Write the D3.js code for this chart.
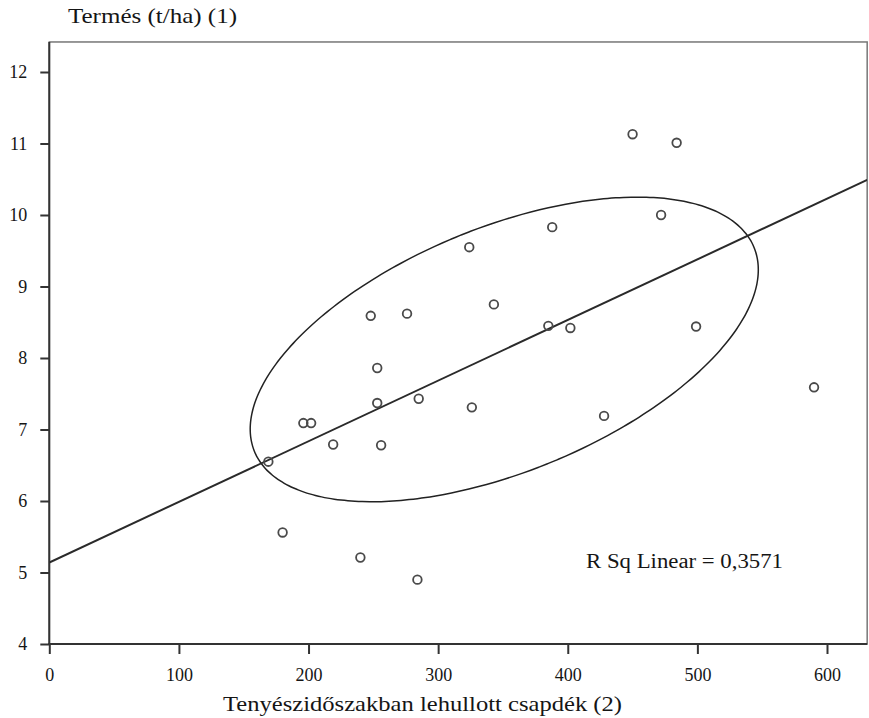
<!DOCTYPE html>
<html>
<head>
<meta charset="utf-8">
<script src="https://cdn.jsdelivr.net/npm/d3@7"></script>
<style>
  body { margin: 0; background: #fff; }
  text { font-family: "Liberation Serif", "DejaVu Serif", serif; fill: #151515; }
</style>
</head>
<body>
<div id="viz"></div>
<script>
// csapadék (mm) vs termés (t/ha)
var rain  = [450, 484, 472, 388, 324, 343, 276, 385, 402, 499, 590, 428,
             248, 253, 285, 253, 326, 196, 202, 219, 256, 169, 180, 240, 284];
var yieldT = [11.13, 11.01, 10.00, 9.83, 9.55, 8.75, 8.62, 8.45, 8.42, 8.44, 7.59, 7.19,
              8.59, 7.86, 7.43, 7.37, 7.31, 7.09, 7.09, 6.79, 6.78, 6.55, 5.56, 5.21, 4.90];

var xTicks = [0, 100, 200, 300, 400, 500, 600];
var yTicks = [4, 5, 6, 7, 8, 9, 10, 11, 12];

// fitted line, ends
var fitX = [0, 631];
var fitY = [5.14, 10.49];

// ellipse drawn around the cloud: centre, spread and correlation
var ellCentre = [351, 8.12];
var ellSpread = [196, 2.13];
var ellCorr   = 0.523;

var rsqLabel = "R Sq Linear = 0,3571";

var W = 869, H = 718;
var svg = d3.select("#viz").append("svg")
    .attr("width", W)
    .attr("height", H);

var x = d3.scaleLinear().domain([0, 600]).range([49.3, 827]);
var y = d3.scaleLinear().domain([4, 12]).range([644, 72]);

var xEnd = 631, yTop = 12.42;

// frame (top and right)
svg.append("rect")
    .attr("x", x(0)).attr("y", y(yTop))
    .attr("width", x(xEnd) - x(0)).attr("height", y(4) - y(yTop))
    .style("fill", "none")
    .style("stroke", "#777")
    .style("stroke-width", 1.5);

svg.append("clipPath").attr("id", "plot")
    .append("rect")
    .attr("x", x(0)).attr("y", y(yTop))
    .attr("width", x(xEnd) - x(0)).attr("height", y(4) - y(yTop));

var gx = svg.append("g")
    .attr("transform", "translate(0," + y(4) + ")")
    .call(d3.axisBottom(x).tickValues(xTicks).tickSizeOuter(0).tickSize(10).tickPadding(14));
var gy = svg.append("g")
    .attr("transform", "translate(" + x(0) + ",0)")
    .call(d3.axisLeft(y).tickValues(yTicks).tickSizeOuter(0).tickSize(9).tickPadding(13));

[gx, gy].forEach(function(g) {
  g.select(".domain").remove();
  g.selectAll("line").style("stroke", "#333").style("stroke-width", 2);
  g.selectAll("text").style("font-size", "18px").style("fill", "#151515")
    .style("font-family", "'Liberation Serif', serif");
});

// axis lines
svg.append("line")
    .attr("x1", x(0)).attr("x2", x(0)).attr("y1", y(yTop)).attr("y2", y(4) + 1)
    .style("stroke", "#333").style("stroke-width", 2);
svg.append("line")
    .attr("x1", x(0) - 1).attr("x2", x(xEnd)).attr("y1", y(4)).attr("y2", y(4))
    .style("stroke", "#333").style("stroke-width", 2);

var plot = svg.append("g").attr("clip-path", "url(#plot)");

// ellipse
var ts = d3.range(0, 360, 2).map(function(d) { return d * Math.PI / 180; });
var ell = ts.map(function(t) {
  var ex = ellCentre[0] + ellSpread[0] * Math.cos(t);
  var ey = ellCentre[1] + ellSpread[1] * (ellCorr * Math.cos(t) + Math.sqrt(1 - ellCorr * ellCorr) * Math.sin(t));
  return [x(ex), y(ey)];
});
plot.append("path")
    .attr("d", d3.line().curve(d3.curveCardinalClosed)(ell))
    .style("fill", "none")
    .style("stroke", "#222")
    .style("stroke-width", 1.5);

// fit line
plot.append("path")
    .attr("d", d3.line()(fitX.map(function(d, i) { return [x(d), y(fitY[i])]; })))
    .style("fill", "none")
    .style("stroke", "#2a2a2a")
    .style("stroke-width", 2);

// points
plot.selectAll("circle")
    .data(rain)
    .enter()
    .append("circle")
    .attr("cx", function(d) { return x(d); })
    .attr("cy", function(d, i) { return y(yieldT[i]); })
    .attr("r", 4.3)
    .style("fill", "none")
    .style("stroke", "#4a4a4a")
    .style("stroke-width", 1.8);

svg.append("text")
    .attr("x", 586).attr("y", 568)
    .attr("textLength", 197).attr("lengthAdjust", "spacingAndGlyphs")
    .style("font-size", "20px")
    .text(rsqLabel);

svg.append("text")
    .attr("x", 68).attr("y", 23)
    .attr("textLength", 169).attr("lengthAdjust", "spacingAndGlyphs")
    .style("font-size", "21px")
    .text("Termés (t/ha) (1)");

svg.append("text")
    .attr("x", 223).attr("y", 711)
    .attr("textLength", 399).attr("lengthAdjust", "spacingAndGlyphs")
    .style("font-size", "22px")
    .text("Tenyészidőszakban lehullott csapdék (2)");
</script>
</body>
</html>
